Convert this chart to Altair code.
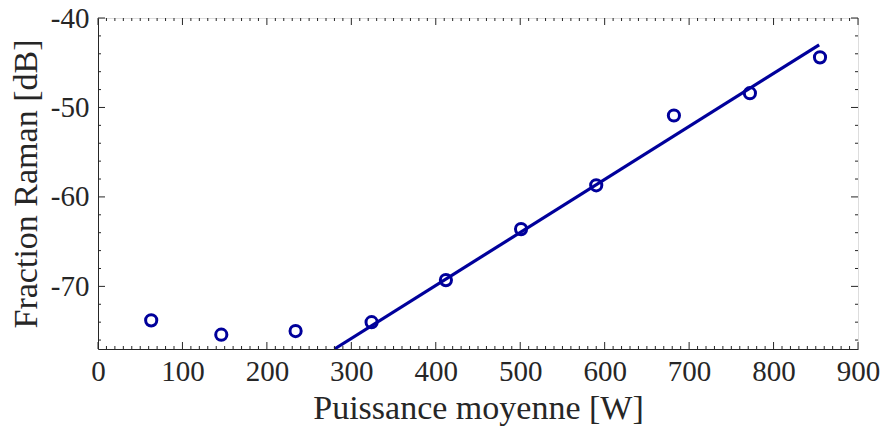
import altair as alt
import pandas as pd

# Data
power = [63, 146, 234, 324, 412, 501, 590, 682, 772, 855]
raman = [-73.8, -75.4, -75.0, -74.0, -69.3, -63.6, -58.7, -50.9, -48.4, -44.4]
fit_x = [280, 854]
fit_y = [-77.0, -43.0]

x_major = [0, 100, 200, 300, 400, 500, 600, 700, 800, 900]
y_major = [-70, -60, -50, -40]
x_minor = [v for v in range(0, 901, 10) if v % 100 != 0]
y_minor = [v for v in range(-76, -40, 2) if v % 10 != 0]

W, H = 760, 331
FONT = "Liberation Serif"
GRAY = "#262626"
BLUE = "#00009b"

xs = alt.Scale(domain=[0, 900], nice=False, zero=False)
ys = alt.Scale(domain=[-77, -40], nice=False, zero=False)

pts_df = pd.DataFrame({"p": power, "r": raman})
fit_df = pd.DataFrame({"p": fit_x, "r": fit_y})

x_axis = alt.Axis(values=x_major, labelExpr="'' + datum.value", ticks=False,
                  grid=False, labelFlush=False, labelOverlap=False,
                  labelFont=FONT, labelFontSize=29, labelColor=GRAY,
                  labelPadding=8, domainColor=GRAY,
                  title="Puissance moyenne [W]", titleFont=FONT,
                  titleFontSize=34, titleFontWeight="normal",
                  titleColor=GRAY, titlePadding=5)
y_axis = alt.Axis(values=y_major, labelExpr="'' + datum.value", ticks=False,
                  grid=False, labelFlush=False, labelOverlap=False,
                  labelFont=FONT, labelFontSize=29, labelColor=GRAY,
                  labelPadding=9, domainColor=GRAY,
                  title="Fraction Raman [dB]", titleFont=FONT,
                  titleFontSize=34, titleFontWeight="normal",
                  titleColor=GRAY, titlePadding=7)


def X(field):
    return alt.X(field, scale=xs, axis=x_axis, title="Puissance moyenne [W]")


def Y(field):
    return alt.Y(field, scale=ys, axis=y_axis, title="Fraction Raman [dB]")


points = alt.Chart(pts_df).mark_point(
    shape="circle", filled=False, size=125, strokeWidth=3, color=BLUE, opacity=1
).encode(x=X("p:Q"), y=Y("r:Q"))

fit = alt.Chart(fit_df).mark_line(color=BLUE, strokeWidth=3.2, clip=True).encode(
    x=X("p:Q"), y=Y("r:Q"))


def xticks(vals, length):
    df = pd.DataFrame({"t": vals})
    base = alt.Chart(df).mark_rule(color=GRAY, strokeWidth=1)
    bottom = base.encode(x=X("t:Q"), y=alt.value(H), y2=alt.value(H - length))
    top = base.encode(x=X("t:Q"), y=alt.value(0), y2=alt.value(length))
    return [bottom, top]


def yticks(vals, length):
    df = pd.DataFrame({"t": vals})
    base = alt.Chart(df).mark_rule(color=GRAY, strokeWidth=1)
    left = base.encode(y=Y("t:Q"), x=alt.value(0), x2=alt.value(length))
    right = base.encode(y=Y("t:Q"), x=alt.value(W), x2=alt.value(W - length))
    return [left, right]


layers = [points, fit]
layers += xticks(x_major, 7) + xticks(x_minor, 3)
layers += yticks(y_major, 7) + yticks(y_minor, 3)

chart = alt.layer(*layers).properties(
    width=W, height=H,
    autosize=alt.AutoSizeParams(type="none"),
    padding={"left": 98, "top": 18, "right": 23, "bottom": 81},
).configure_view(stroke=GRAY, strokeWidth=1).configure(background="white")

chart.save("out.html", embed_options={"renderer": "svg", "actions": False})
